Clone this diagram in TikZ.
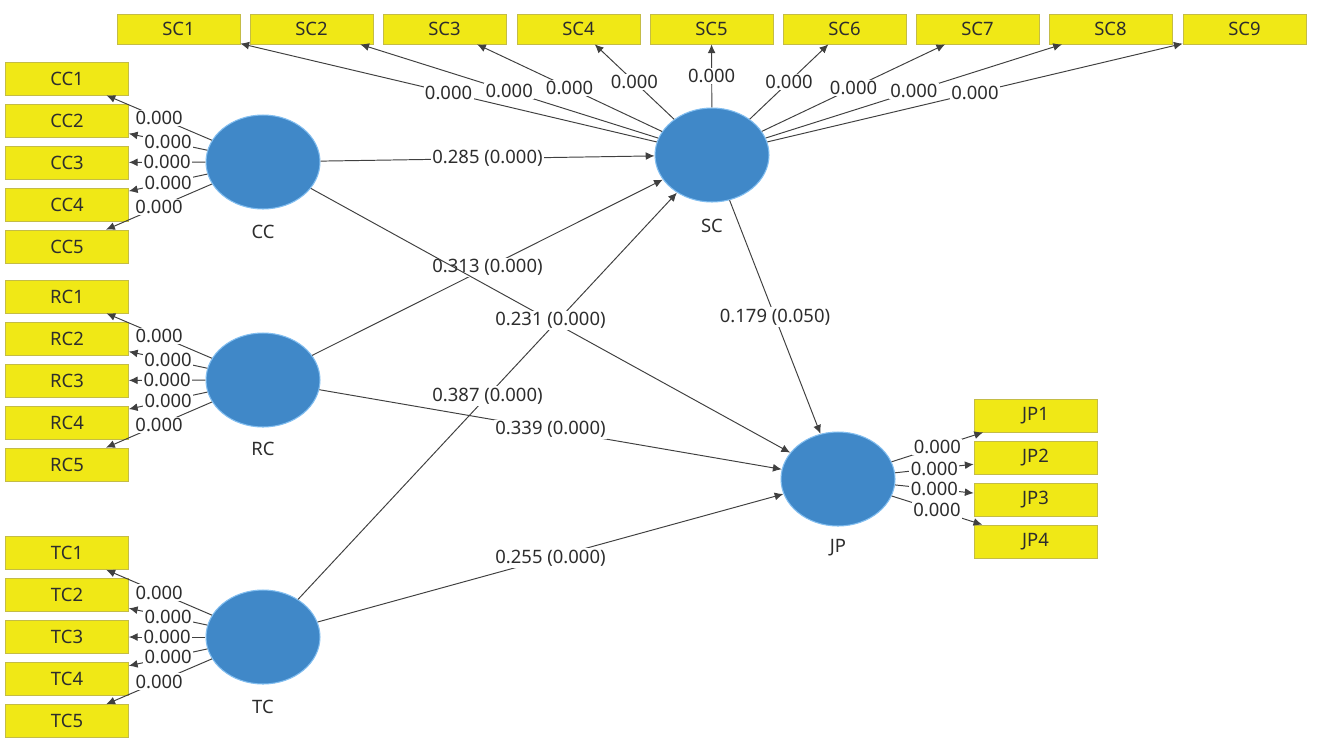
\documentclass[tikz,border=0pt]{standalone}
\usepackage{fontspec}
\setmainfont{Noto Sans}
\usetikzlibrary{arrows.meta,shapes.geometric}
\definecolor{boxyellow}{RGB}{240,232,22}
\definecolor{boxedge}{RGB}{196,188,70}
\definecolor{lvblue}{RGB}{64,136,200}
\definecolor{lvedge}{RGB}{130,190,240}
\definecolor{txt}{RGB}{45,45,45}
\begin{document}
\begin{tikzpicture}[x=0.02cm,y=-0.02cm,
  font=\fontsize{10.5}{12}\selectfont, text=txt,
  ind/.style={draw=boxedge, fill=boxyellow, minimum width=2.46cm, minimum height=0.66cm, inner sep=0pt, line width=0.4pt},
  indsc/.style={ind, minimum height=0.6cm},
  lv/.style={ellipse, draw=lvedge, fill=lvblue, minimum width=2.28cm, minimum height=1.88cm, inner sep=0pt, line width=0.6pt},
  arr/.style={draw=black!75, line width=0.55pt, -{Latex[length=5pt,width=4.5pt]}},
  lab/.style={fill=white, inner sep=0.8pt, midway}]
\useasboundingbox (0,0) rectangle (1327,745);
\fill[white] (0,0) rectangle (1327,745);

% indicator boxes
\foreach \i/\y in {1/78.5,2/120.5,3/162.5,4/204.5,5/246.5}{\node[ind] (CC\i) at (67,\y) {CC\i};}
\foreach \i/\y in {1/296.5,2/338.5,3/380.5,4/422.5,5/464.5}{\node[ind] (RC\i) at (67,\y) {RC\i};}
\foreach \i/\y in {1/553,2/595,3/637,4/679,5/721}{\node[ind] (TC\i) at (67,\y) {TC\i};}
\foreach \i/\x in {1/178.5,2/311.5,3/444.5,4/578.5,5/711.5,6/844.5,7/977.5,8/1110.5,9/1244.5}{\node[indsc] (SC\i) at (\x,29) {SC\i};}
\foreach \i/\y in {1/415.5,2/457.5,3/499.5,4/541.5}{\node[ind] (JP\i) at (1035.5,\y) {JP\i};}

% latent variables
\node[lv] (CC) at (263,162) {};
\node[lv] (RC) at (263,380) {};
\node[lv] (TC) at (263,637) {};
\node[lv] (SC) at (712,155) {};
\node[lv] (JP) at (838,479) {};
\node (CCl) at (263,232) {CC};
\node (RCl) at (263,449) {RC};
\node (TCl) at (263,707) {TC};
\node (SCl) at (712,226) {SC};
\node (JPl) at (838,548) {JP};

% outer loadings
\foreach \i in {1,...,5}{
  \draw[arr] (CC) -- node[lab]{0.000} (CC\i);
  \draw[arr] (RC) -- node[lab]{0.000} (RC\i);
  \draw[arr] (TC) -- node[lab]{0.000} (TC\i);
}
\foreach \i in {1,...,9}{\draw[arr] (SC) -- node[lab]{0.000} (SC\i);}
\foreach \i in {1,...,4}{\draw[arr] (JP) -- node[lab]{0.000} (JP\i);}

% structural paths
\draw[arr] (RC) -- node[lab]{0.313 (0.000)} (SC);
\draw[arr] (TC) -- node[lab]{0.387 (0.000)} (SC);
\draw[arr] (CC) -- node[lab]{0.231 (0.000)} (JP);
\draw[arr] (CC) -- node[lab]{0.285 (0.000)} (SC);
\draw[arr] (RC) -- node[lab]{0.339 (0.000)} (JP);
\draw[arr] (TC) -- node[lab]{0.255 (0.000)} (JP);
\draw[arr] (SC) -- node[lab]{0.179 (0.050)} (JP);
\end{tikzpicture}
\end{document}
